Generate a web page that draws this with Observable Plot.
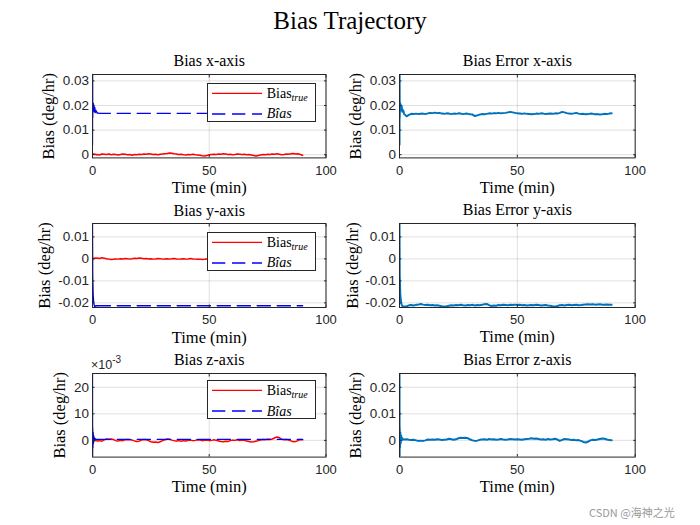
<!DOCTYPE html>
<html>
<head>
<meta charset="utf-8">
<script src="https://cdn.jsdelivr.net/npm/d3@7"></script>
<script src="https://cdn.jsdelivr.net/npm/@observablehq/plot@0.6"></script>
<style>
  html, body { margin: 0; padding: 0; background: #fff; }
  #fig { position: relative; width: 700px; height: 525px; overflow: hidden; background: #fff; }
  .maintitle { position: absolute; left: 0; width: 700px; text-align: center; top: 8px;
    font-family: "Liberation Serif", serif; font-size: 25px; color: #000; line-height: 1; }
  .legend { position: absolute; box-sizing: border-box; border: 1px solid #262626; background: #fff; }
  .legend .lab { position: absolute; font-family: "Liberation Serif", serif; font-size: 14px; color: #000; white-space: nowrap; line-height: 1; }
  .legend .lab sub { font-style: italic; font-size: 10px; vertical-align: -3px; line-height: 0; }
  .expo { position: absolute; font-family: "Liberation Sans", Arial, sans-serif; font-size: 12.5px; color: #262626; line-height: 1; }
  .expo sup { font-size: 10px; vertical-align: 6px; line-height: 0; }
  .wm { position: absolute; font-family: "Noto Sans CJK SC", "Noto Sans", sans-serif; font-size: 11px; color: #9a9a9a; }
</style>
</head>
<body>
<div id="fig"></div>
<script>
// ---------------- data (deg/hr vs. minutes) ----------------
const time = [
  0, 0.05, 0.1, 0.2, 0.35, 0.5, 0.7, 0.9, 1.2, 1.6,
  2, 3, 4, 5, 6, 7, 8, 9, 10, 11,
  12, 13, 14, 15, 16, 17, 18, 19, 20, 21,
  22, 23, 24, 25, 26, 27, 28, 29, 30, 31,
  32, 33, 34, 35, 36, 37, 38, 39, 40, 41,
  42, 43, 44, 45, 46, 47, 48, 49, 50, 51,
  52, 53, 54, 55, 56, 57, 58, 59, 60, 61,
  62, 63, 64, 65, 66, 67, 68, 69, 70, 71,
  72, 73, 74, 75, 76, 77, 78, 79, 80, 81,
  82, 83, 84, 85, 86, 87, 88, 89, 90
];
const biasTrueX = [
  0.0000, 0.0001, 0.0002, 0.0001, 0.0002, 0.0003, 0.0002, 0.0001, 0.0002, 0.0000,
  0.0001, -0.0001, 0.0003, 0.0002, 0.0001, 0.0003, 0.0000, 0.0002, 0.0001, -0.0001,
  0.0001, 0.0003, 0.0002, 0.0000, 0.0001, -0.0002, 0.0001, 0.0000, 0.0002, 0.0001,
  0.0003, 0.0002, 0.0004, 0.0003, 0.0001, 0.0002, 0.0000, 0.0002, 0.0003, 0.0004,
  0.0005, 0.0007, 0.0006, 0.0004, 0.0003, 0.0001, 0.0002, 0.0000, -0.0001, 0.0001,
  0.0000, 0.0002, 0.0000, -0.0001, -0.0002, -0.0004, -0.0005, -0.0003, 0.0000, 0.0001,
  0.0002, 0.0001, 0.0003, 0.0002, 0.0004, 0.0003, 0.0001, 0.0002, 0.0000, 0.0001,
  0.0003, 0.0002, 0.0001, 0.0002, 0.0000, 0.0001, -0.0001, -0.0003, -0.0005, -0.0003,
  -0.0001, 0.0001, 0.0000, 0.0002, 0.0001, 0.0003, 0.0002, 0.0004, 0.0002, 0.0000,
  0.0001, 0.0003, 0.0002, 0.0004, 0.0005, 0.0003, 0.0004, 0.0001, -0.0002
];
const biasErrX = [
  0.0040, 0.0326, 0.0150, 0.0212, 0.0188, 0.0205, 0.0180, 0.0198, 0.0175, 0.0180,
  0.0165, 0.0156, 0.0162, 0.0166, 0.0165, 0.0167, 0.0165, 0.0166, 0.0167, 0.0165,
  0.0168, 0.0170, 0.0169, 0.0171, 0.0169, 0.0170, 0.0167, 0.0166, 0.0168, 0.0167,
  0.0165, 0.0167, 0.0166, 0.0168, 0.0167, 0.0165, 0.0167, 0.0166, 0.0164, 0.0163,
  0.0157, 0.0160, 0.0163, 0.0165, 0.0164, 0.0166, 0.0168, 0.0167, 0.0169, 0.0168,
  0.0170, 0.0168, 0.0169, 0.0170, 0.0172, 0.0174, 0.0172, 0.0170, 0.0168, 0.0167,
  0.0166, 0.0168, 0.0166, 0.0165, 0.0164, 0.0165, 0.0167, 0.0166, 0.0168, 0.0167,
  0.0165, 0.0166, 0.0167, 0.0166, 0.0168, 0.0167, 0.0170, 0.0174, 0.0172, 0.0169,
  0.0167, 0.0166, 0.0168, 0.0170, 0.0167, 0.0165, 0.0166, 0.0164, 0.0165, 0.0167,
  0.0166, 0.0164, 0.0165, 0.0163, 0.0164, 0.0166, 0.0165, 0.0167, 0.0168
];
const biasTrueY = [
  0.0002, 0.0003, 0.0002, 0.0003, 0.0001, 0.0002, 0.0003, 0.0002, 0.0004, 0.0003,
  0.0004, 0.0002, 0.0005, 0.0003, 0.0001, -0.0001, -0.0003, -0.0002, 0.0000, -0.0001,
  0.0001, 0.0000, 0.0002, 0.0001, -0.0001, 0.0001, 0.0003, 0.0002, 0.0004, 0.0003,
  0.0001, 0.0002, 0.0000, 0.0001, -0.0001, 0.0000, 0.0002, 0.0001, -0.0001, 0.0000,
  0.0001, -0.0001, 0.0001, 0.0002, 0.0000, -0.0001, 0.0000, 0.0001, -0.0001, 0.0000,
  0.0002, 0.0000, -0.0001, -0.0002, -0.0001, -0.0003, -0.0002, 0.0000, -0.0001, 0.0001,
  0.0002, 0.0000, -0.0001, 0.0001, 0.0003, 0.0002, 0.0000, 0.0001, -0.0001, 0.0000,
  0.0002, 0.0001, -0.0001, 0.0000, 0.0003, 0.0004, 0.0002, 0.0000, 0.0001, -0.0001,
  0.0000, 0.0001, -0.0001, 0.0000, -0.0002, -0.0001, 0.0000, -0.0002, -0.0003, -0.0002,
  -0.0004, -0.0003, -0.0002, -0.0004, -0.0002, -0.0001, -0.0003, -0.0002, -0.0001
];
const biasErrY = [
  0.0161, 0.0050, -0.0078, -0.0110, -0.0165, -0.0180, -0.0198, -0.0208, -0.0214, -0.0217,
  -0.0217, -0.0216, -0.0211, -0.0210, -0.0212, -0.0209, -0.0208, -0.0205, -0.0208, -0.0210,
  -0.0209, -0.0211, -0.0210, -0.0212, -0.0211, -0.0213, -0.0215, -0.0216, -0.0215, -0.0213,
  -0.0211, -0.0212, -0.0210, -0.0211, -0.0209, -0.0211, -0.0212, -0.0210, -0.0211, -0.0209,
  -0.0212, -0.0210, -0.0211, -0.0209, -0.0206, -0.0205, -0.0210, -0.0214, -0.0212, -0.0213,
  -0.0210, -0.0211, -0.0209, -0.0210, -0.0211, -0.0209, -0.0210, -0.0208, -0.0210, -0.0209,
  -0.0211, -0.0210, -0.0212, -0.0211, -0.0210, -0.0211, -0.0209, -0.0210, -0.0212, -0.0211,
  -0.0210, -0.0212, -0.0213, -0.0215, -0.0216, -0.0214, -0.0211, -0.0210, -0.0212, -0.0210,
  -0.0209, -0.0211, -0.0210, -0.0209, -0.0211, -0.0210, -0.0208, -0.0207, -0.0206, -0.0207,
  -0.0206, -0.0208, -0.0207, -0.0206, -0.0208, -0.0209, -0.0207, -0.0208, -0.0209
];
const biasTrueZ = [
  0.0000, 0.0001, -0.0001, 0.0000, 0.0001, -0.0001, 0.0000, -0.0002, 0.0001, -0.0001,
  -0.0002, -0.0001, -0.0003, 0.0002, 0.0005, 0.0004, 0.0005, 0.0003, -0.0001, -0.0002,
  0.0000, -0.0001, 0.0002, 0.0003, 0.0002, 0.0001, -0.0002, -0.0004, -0.0003, 0.0001,
  0.0003, 0.0002, -0.0001, -0.0005, -0.0007, -0.0006, -0.0008, -0.0005, -0.0001, 0.0002,
  0.0005, 0.0004, 0.0001, -0.0001, -0.0002, -0.0001, -0.0003, -0.0001, -0.0002, 0.0000,
  0.0001, -0.0001, 0.0000, 0.0002, 0.0001, -0.0001, 0.0000, 0.0001, -0.0001, 0.0000,
  0.0002, 0.0000, -0.0002, -0.0004, -0.0005, -0.0003, -0.0004, -0.0001, 0.0001, 0.0000,
  0.0002, -0.0001, 0.0001, 0.0000, -0.0002, -0.0004, -0.0006, -0.0005, -0.0003, -0.0001,
  0.0001, 0.0003, 0.0002, 0.0004, 0.0003, 0.0005, 0.0009, 0.0013, 0.0010, 0.0004,
  0.0002, 0.0003, 0.0001, -0.0002, -0.0005, -0.0004, -0.0001, 0.0003, 0.0002
];
const biasErrZ = [
  0.0252, -0.0063, 0.0048, -0.0028, 0.0030, -0.0012, 0.0018, 0.0000, 0.0008, 0.0003,
  0.0003, 0.0004, 0.0002, 0.0001, 0.0002, 0.0000, -0.0002, -0.0001, -0.0002, 0.0000,
  0.0003, 0.0002, 0.0003, 0.0002, 0.0004, 0.0003, 0.0001, 0.0002, 0.0003, 0.0006,
  0.0004, 0.0002, 0.0004, 0.0008, 0.0010, 0.0009, 0.0010, 0.0008, 0.0003, 0.0000,
  -0.0002, -0.0001, 0.0002, 0.0003, 0.0004, 0.0002, 0.0005, 0.0003, 0.0004, 0.0002,
  0.0003, 0.0005, 0.0003, 0.0002, 0.0003, 0.0005, 0.0004, 0.0003, 0.0004, 0.0003,
  0.0002, 0.0004, 0.0005, 0.0006, 0.0008, 0.0006, 0.0007, 0.0005, 0.0003, 0.0004,
  0.0002, 0.0005, 0.0003, 0.0004, 0.0006, 0.0003, -0.0002, 0.0002, 0.0005, 0.0004,
  0.0003, 0.0001, 0.0002, 0.0000, 0.0001, -0.0002, -0.0006, -0.0008, -0.0005, 0.0000,
  0.0002, 0.0001, 0.0003, 0.0005, 0.0007, 0.0006, 0.0003, 0.0001, 0.0000
];
const timeEst = [0, 0.05, 0.1, 0.2, 0.3, 0.4, 0.5, 0.6, 0.8, 1.0, 1.2, 1.5, 2, 3, 5, 10, 20, 30, 40, 50, 60, 70, 80, 90];
const biasEstX = [0.0040, 0.0326, 0.0150, 0.0212, 0.0185, 0.0208, 0.0178, 0.0200, 0.0174, 0.0192, 0.0171, 0.0180,
  0.0170, 0.0168, 0.0168, 0.0168, 0.0168, 0.0168, 0.0168, 0.0168, 0.0168, 0.0168, 0.0168, 0.0168];
const biasEstY = [0.0161, 0.0060, -0.0075, -0.0120, -0.0165, -0.0180, -0.0195, -0.0205, -0.0212, -0.0221, -0.0214, -0.0213,
  -0.0213, -0.0213, -0.0213, -0.0213, -0.0213, -0.0213, -0.0213, -0.0213, -0.0213, -0.0213, -0.0213, -0.0213];
const biasEstZ = [0.0252, -0.0063, 0.0048, -0.0028, 0.0030, -0.0012, 0.0018, 0.0000, 0.0010, 0.0002, 0.0006, 0.0003,
  0.0004, 0.0004, 0.0004, 0.0004, 0.0004, 0.0004, 0.0004, 0.0004, 0.0004, 0.0004, 0.0004, 0.0004];

const xTicks = [0, 50, 100];
const yTicksX = [0, 0.01, 0.02, 0.03];
const yTicksY = [-0.02, -0.01, 0, 0.01];
const yTicksZ = [0, 0.01, 0.02];
const titles = ["Bias x-axis", "Bias Error x-axis", "Bias y-axis", "Bias Error y-axis", "Bias z-axis", "Bias Error z-axis"];
const mainTitle = "Bias Trajectory";
const xLabel = "Time (min)";
const yLabel = "Bias (deg/hr)";

// ---------------- helpers ----------------
const rows = (ts, vs) => ts.map((t, i) => ({t, v: vs[i]}));
const SANS = "Liberation Sans, Arial, Helvetica, sans-serif";
const SERIF = "Liberation Serif, Times New Roman, serif";
const AX = "#262626";
const fmtDec = d => String(+d.toFixed(3));
const fmtMilli = d => String(Math.round(d * 1000));

const fig = document.getElementById("fig");
const cols = [{x0: 91.5, w: 233.5}, {x0: 399.3, w: 235.7}];
const rowsGeo = [{y0: 74.3, h: 83.4}, {y0: 223.3, h: 84}, {y0: 372.7, h: 83.6}];
const mL = 70, mR = 20, mT = 45, mB = 45;

function panel({r, c, title, yDomain, yTicks, fmt, ylabOff, marks}) {
  const {x0, w} = cols[c];
  const {y0, h} = rowsGeo[r];
  const chart = Plot.plot({
    width: w + mL + mR, height: h + mT + mB,
    marginLeft: mL, marginRight: mR, marginTop: mT, marginBottom: mB,
    style: {background: "transparent", overflow: "visible", color: AX},
    x: {domain: [0, 100]},
    y: {domain: yDomain},
    marks: [
      Plot.gridX({ticks: xTicks, stroke: AX, strokeOpacity: 0.15, strokeWidth: 1}),
      Plot.gridY({ticks: yTicks, stroke: AX, strokeOpacity: 0.15, strokeWidth: 1}),
      ...marks,
      Plot.frame({stroke: AX, strokeWidth: 1}),
      Plot.axisX({ticks: xTicks, anchor: "bottom", tickSize: -2.5, tickPadding: 10, tickFormat: d => String(d),
        fontSize: 13, fontFamily: SANS, fill: AX, label: null}),
      Plot.axisX({ticks: xTicks, anchor: "top", tickSize: -2.5, tickFormat: () => "", label: null}),
      Plot.axisY({ticks: yTicks, anchor: "left", tickSize: -2.5, tickPadding: 6, tickFormat: fmt,
        fontSize: 13.5, fontFamily: SANS, fill: AX, label: null}),
      Plot.axisY({ticks: yTicks, anchor: "right", tickSize: -2.5, tickFormat: () => "", label: null}),
      Plot.text([title], {frameAnchor: "top", dy: -8, lineAnchor: "bottom", textAnchor: "middle",
        fontFamily: SERIF, fontSize: 16, fill: "#000"}),
      Plot.text([xLabel], {frameAnchor: "bottom", dy: 35, lineAnchor: "bottom", textAnchor: "middle",
        fontFamily: SERIF, fontSize: 16.5, fill: "#000"}),
      Plot.text([yLabel], {frameAnchor: "left", dx: -ylabOff, rotate: -90, lineAnchor: "bottom", textAnchor: "middle",
        fontFamily: SERIF, fontSize: 16.5, fill: "#000"})
    ]
  });
  chart.style.position = "absolute";
  chart.style.left = (x0 - mL) + "px";
  chart.style.top = (y0 - mT) + "px";
  fig.appendChild(chart);
}

function biasMarks(trueVals, estVals) {
  const tr = rows(time, trueVals);
  const es = rows(timeEst, estVals);
  return [
    Plot.line(tr, {x: "t", y: "v", stroke: "#ff0000", strokeWidth: 1.5, clip: true}),
    Plot.line(es.filter(d => d.t <= 2), {x: "t", y: "v", stroke: "#0000ff", strokeWidth: 1.3, clip: true}),
    Plot.line(es.filter(d => d.t >= 2), {x: "t", y: "v", stroke: "#0000ff", strokeWidth: 1.3, strokeDasharray: "13.3,6.7", clip: true})
  ];
}
function errMarks(vals) {
  return [Plot.line(rows(time, vals), {x: "t", y: "v", stroke: "#0072bd", strokeWidth: 2, clip: true})];
}

const domX = [-0.0013, 0.0326], domY = [-0.0221, 0.0161], domZ = [-0.0063, 0.0252];
panel({r: 0, c: 0, title: titles[0], yDomain: domX, yTicks: yTicksX, fmt: fmtDec, ylabOff: 38.5, marks: biasMarks(biasTrueX, biasEstX)});
panel({r: 0, c: 1, title: titles[1], yDomain: domX, yTicks: yTicksX, fmt: fmtDec, ylabOff: 38.3, marks: errMarks(biasErrX)});
panel({r: 1, c: 0, title: titles[2], yDomain: domY, yTicks: yTicksY, fmt: fmtDec, ylabOff: 42.5, marks: biasMarks(biasTrueY, biasEstY)});
panel({r: 1, c: 1, title: titles[3], yDomain: domY, yTicks: yTicksY, fmt: fmtDec, ylabOff: 41.8, marks: errMarks(biasErrY)});
panel({r: 2, c: 0, title: titles[4], yDomain: domZ, yTicks: yTicksZ, fmt: fmtMilli, ylabOff: 27.5, marks: biasMarks(biasTrueZ, biasEstZ)});
panel({r: 2, c: 1, title: titles[5], yDomain: domZ, yTicks: yTicksZ, fmt: fmtDec, ylabOff: 38.3, marks: errMarks(biasErrZ)});

// main title
const mt = document.createElement("div");
mt.className = "maintitle";
mt.textContent = mainTitle;
fig.appendChild(mt);

// legends
function legend(r) {
  const {x0, w} = cols[0];
  const {y0} = rowsGeo[r];
  const lg = document.createElement("div");
  lg.className = "legend";
  const left = x0 + w - 118.3, top = y0 + (r === 2 ? 7.3 : 8.2);
  Object.assign(lg.style, {left: left + "px", top: top + "px", width: "109px", height: "39px"});
  lg.innerHTML = `
    <svg width="109" height="39" style="position:absolute;left:-1px;top:-1px;overflow:visible">
      <line x1="5" x2="55" y1="10.4" y2="10.4" stroke="#ff0000" stroke-width="1.3"/>
      <line x1="5" x2="55" y1="31" y2="31" stroke="#0000ff" stroke-width="1.3" stroke-dasharray="13.3,6.7"/>
    </svg>
    <div class="lab" style="left:59px;top:3px">Bias<sub>true</sub></div>
    <div class="lab" style="left:59px;top:23.5px;font-style:italic">Bîas</div>`;
  fig.appendChild(lg);
}
legend(0); legend(1); legend(2);

// exponent label for z panel
const ex = document.createElement("div");
ex.className = "expo";
ex.style.left = "91px";
ex.style.top = "359px";
ex.innerHTML = "×10<sup>-3</sup>";
fig.appendChild(ex);

// watermark
const wm = document.createElement("div");
wm.className = "wm";
wm.style.left = "589px";
wm.style.top = "504px";
wm.textContent = "CSDN @海神之光";
fig.appendChild(wm);
</script>
</body>
</html>
